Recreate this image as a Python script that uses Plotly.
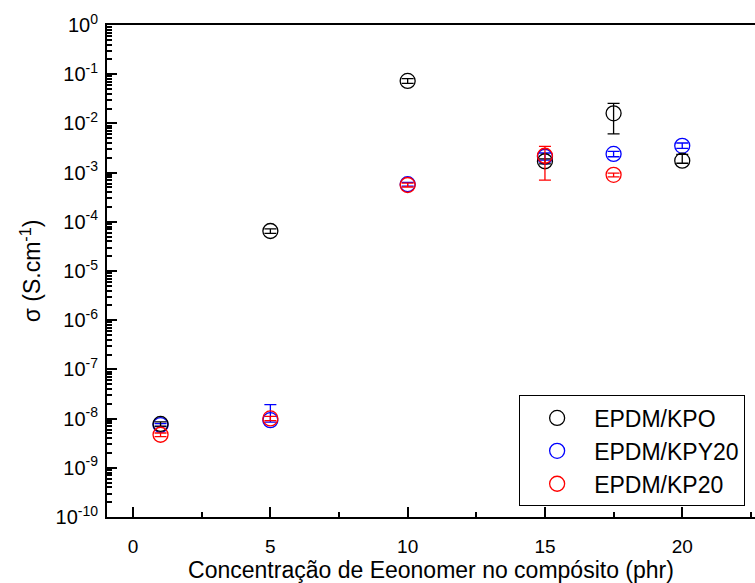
import plotly.graph_objects as go

# ---- data ----
conc_kpo = [1, 5, 10, 15, 17.5, 20]
sigma_kpo = [7.8e-9, 6.5e-5, 7.3e-2, 1.7e-3, 1.6e-2, 1.75e-3]
err_kpo_plus = [0.8e-9, 0.7e-5, 0.8e-2, 0.2e-3, 0.96e-2, 0.6e-3]
err_kpo_minus = [0.8e-9, 0.7e-5, 0.8e-2, 0.2e-3, 0.99e-2, 0.2e-3]

conc_kpy = [1, 5, 10, 15, 17.5, 20]
sigma_kpy = [7.4e-9, 9.3e-9, 5.8e-4, 2.1e-3, 2.4e-3, 3.5e-3]
err_kpy_plus = [0.5e-9, 1.0e-8, 0.5e-4, 0.4e-3, 0.3e-3, 0.5e-3]
err_kpy_minus = [0.5e-9, 0.8e-9, 0.5e-4, 0.3e-3, 0.3e-3, 0.4e-3]

conc_kp = [1, 5, 10, 15, 17.5]
sigma_kp = [4.7e-9, 1.01e-8, 5.6e-4, 2.2e-3, 9.0e-4]
err_kp_plus = [0.4e-9, 1.0e-9, 0.5e-4, 1.2e-3, 0.8e-4]
err_kp_minus = [0.4e-9, 1.0e-9, 0.5e-4, 1.5e-3, 0.8e-4]

ytick_exp = [0, -1, -2, -3, -4, -5, -6, -7, -8, -9, -10]
xtick_vals = [0, 5, 10, 15, 20]

FONT = "Arial, Liberation Sans, sans-serif"


def series(x, y, ep, em, color, name, rank):
    return go.Scatter(
        x=x, y=y, mode="markers", name=name, legendrank=rank, legendgroup=name,
        marker=dict(symbol="circle-open", size=15, color=color, line=dict(width=1.3, color=color)),
        error_y=dict(type="data", symmetric=False, array=ep, arrayminus=em,
                     color=color, thickness=1.3, width=6),
    )


fig = go.Figure()
fig.add_trace(series(conc_kpy, sigma_kpy, err_kpy_plus, err_kpy_minus, "#0000ff", "EPDM/KPY20", 2))
fig.add_trace(series(conc_kpo, sigma_kpo, err_kpo_plus, err_kpo_minus, "#000000", "EPDM/KPO", 1))
fig.add_trace(series(conc_kp, sigma_kp, err_kp_plus, err_kp_minus, "#ff0000", "EPDM/KP20", 3))

fig.update_layout(
    width=755, height=583,
    margin=dict(l=107, r=0, t=25, b=66),
    paper_bgcolor="white", plot_bgcolor="white",
    font=dict(family=FONT, color="black"),
    showlegend=True,
    legend=dict(
        x=0.636, y=0.247, xanchor="left", yanchor="top",
        bordercolor="black", borderwidth=1, bgcolor="white",
        font=dict(size=23, family=FONT), itemwidth=64,
        tracegroupgap=0,
    ),
    xaxis=dict(
        range=[-0.95, 22.65], showline=True, linecolor="black", linewidth=2,
        mirror=True, showgrid=False, zeroline=False,
        tickvals=xtick_vals, ticks="inside", ticklen=10, tickwidth=2, tickcolor="black",
        tickfont=dict(size=19, family=FONT), ticklabelstandoff=11,
        minor=dict(dtick=2.5, tick0=0, ticks="inside", ticklen=5, tickwidth=2, tickcolor="black"),
        title=dict(text="Concentração de Eeonomer no compósito (phr)", font=dict(size=23, family=FONT), standoff=7),
    ),
    yaxis=dict(
        type="log", range=[-10, 0], showline=True, linecolor="black", linewidth=2,
        mirror=False, showgrid=False, zeroline=False,
        tickvals=[10 ** e for e in ytick_exp],
        ticktext=["10<sup>%d</sup>" % e for e in ytick_exp],
        ticks="inside", ticklen=10, tickwidth=2, tickcolor="black",
        tickfont=dict(size=20, family=FONT), ticklabelstandoff=3,
        minor=dict(dtick="D1", ticks="inside", ticklen=5, tickwidth=1.5, tickcolor="black"),
        title=dict(text="σ (S.cm<sup>-1</sup>)", font=dict(size=23, family=FONT), standoff=8),
    ),
)

fig.write_html("out.html")
